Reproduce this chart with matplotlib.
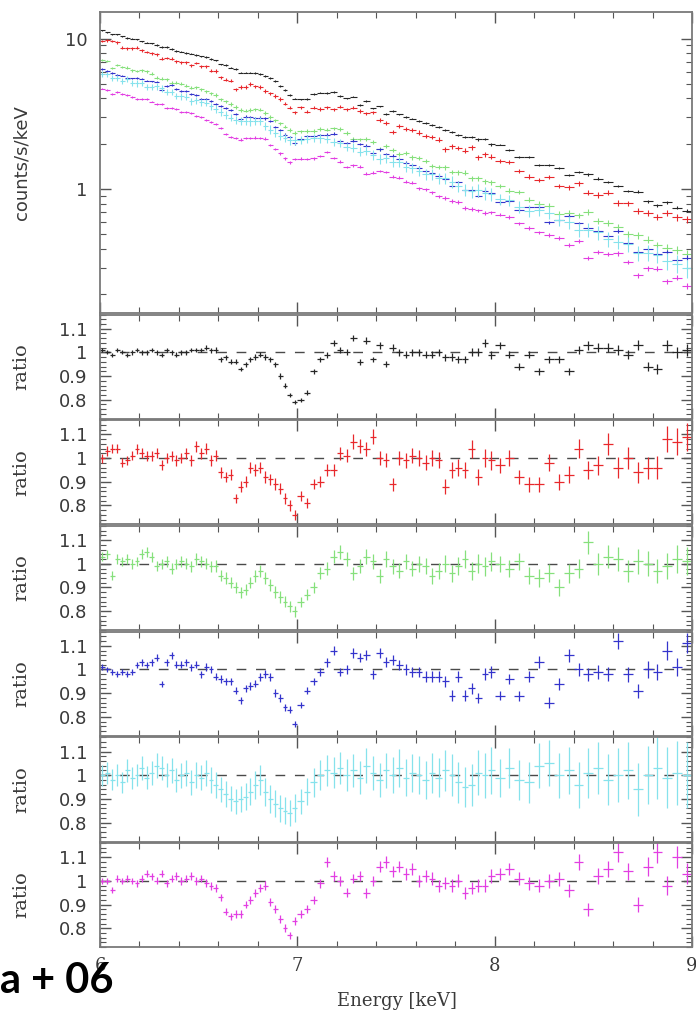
import numpy as np
import matplotlib.pyplot as plt
from matplotlib.ticker import MultipleLocator, FixedLocator, NullFormatter, FuncFormatter, LogLocator

# energy binning (keV): 25 eV bins up to 7 keV, 33 eV to 8 keV, 50 eV above
edges = np.concatenate([np.linspace(6.0, 7.0, 41)[:-1],
                        np.linspace(7.0, 8.0, 31)[:-1],
                        np.linspace(8.0, 9.0, 21)])
energy = 0.5 * (edges[1:] + edges[:-1])
half_width = 0.5 * np.diff(edges)

# data / continuum ratio for the six observations
ratio_k = [
    1.01, 1.00, 0.99, 1.01, 1.00, 0.99, 1.00, 1.01, 1.00, 1.00,
    1.01, 1.00, 0.99, 1.01, 1.00, 0.99, 1.00, 1.00, 1.01, 1.01,
    1.01, 1.02, 1.01, 1.01, 0.97, 0.98, 0.96, 0.96, 0.93, 0.95,
    0.97, 0.98, 0.99, 0.98, 0.97, 0.95, 0.90, 0.86, 0.82, 0.79,
    0.80, 0.83, 0.92, 0.97, 0.99, 1.04, 1.01, 1.00, 1.06, 0.96,
    1.05, 0.97, 1.03, 0.95, 1.02, 1.00, 0.99, 1.00, 1.00, 0.99,
    0.99, 1.00, 0.98, 0.98, 0.97, 0.97, 1.00, 1.00, 1.04, 0.99,
    1.03, 0.99, 0.94, 0.99, 0.92, 0.97, 0.97, 0.92, 1.01, 1.03,
    1.02, 1.02, 1.01, 0.99, 1.03, 0.94, 0.93, 1.03, 1.00, 1.01,
]
ratio_r = [
    1.00, 1.03, 1.04, 1.04, 0.98, 0.99, 1.01, 1.04, 1.02, 1.01,
    1.01, 1.02, 0.97, 1.00, 1.01, 0.99, 1.00, 1.02, 0.99, 1.05,
    1.02, 1.04, 0.99, 1.01, 0.94, 0.92, 0.93, 0.83, 0.88, 0.90,
    0.96, 0.95, 0.96, 0.92, 0.91, 0.89, 0.87, 0.83, 0.80, 0.76,
    0.84, 0.81, 0.89, 0.90, 0.95, 0.95, 1.02, 1.01, 1.07, 1.05,
    1.04, 1.09, 1.00, 0.99, 0.89, 1.00, 0.99, 1.01, 1.00, 0.98,
    1.00, 0.99, 0.88, 0.95, 0.96, 0.95, 1.04, 0.92, 1.00, 0.99,
    0.97, 1.00, 0.92, 0.89, 0.89, 0.98, 0.90, 0.93, 1.04, 0.95,
    0.97, 1.06, 0.96, 1.00, 0.94, 0.96, 0.96, 1.08, 1.07, 1.09,
]
ratio_g = [
    1.03, 1.04, 0.95, 1.02, 1.01, 1.02, 1.00, 1.01, 1.04, 1.05,
    1.03, 0.99, 1.00, 1.01, 0.98, 1.00, 1.01, 1.00, 0.99, 1.02,
    1.01, 1.00, 0.99, 0.99, 0.95, 0.94, 0.92, 0.90, 0.88, 0.89,
    0.92, 0.95, 0.97, 0.94, 0.91, 0.88, 0.86, 0.84, 0.82, 0.80,
    0.84, 0.87, 0.90, 0.96, 0.98, 1.03, 1.05, 1.02, 0.96, 0.99,
    1.03, 1.01, 0.95, 1.02, 0.99, 0.97, 1.01, 0.98, 1.00, 0.99,
    0.95, 0.97, 1.00, 0.96, 0.99, 1.02, 0.97, 1.00, 0.99, 1.01,
    1.00, 0.98, 1.01, 0.95, 0.94, 0.96, 0.90, 0.96, 0.98, 1.09,
    1.00, 1.03, 1.02, 0.97, 1.01, 1.00, 0.97, 0.99, 1.02, 1.01,
]
ratio_b = [
    1.01, 1.00, 0.99, 0.98, 0.99, 0.98, 0.99, 1.02, 1.03, 1.02,
    1.03, 1.05, 0.94, 1.03, 1.06, 1.02, 1.02, 1.03, 1.01, 1.02,
    0.98, 1.01, 1.00, 0.97, 0.96, 0.95, 0.95, 0.91, 0.87, 0.92,
    0.93, 0.94, 0.97, 0.98, 0.97, 0.90, 0.88, 0.84, 0.83, 0.77,
    0.85, 0.91, 0.95, 0.99, 1.03, 1.08, 0.99, 1.00, 1.07, 1.05,
    1.06, 0.98, 1.07, 1.03, 1.04, 1.02, 1.00, 0.99, 0.99, 0.97,
    0.97, 0.97, 0.95, 0.89, 0.97, 0.89, 0.92, 0.88, 0.98, 0.99,
    0.89, 0.96, 0.89, 0.97, 1.03, 0.86, 0.94, 1.06, 1.00, 0.98,
    0.99, 0.98, 1.12, 0.98, 0.91, 1.00, 0.99, 1.08, 1.01, 1.11,
]
ratio_c = [
    1.00, 1.01, 0.98, 1.00, 0.97, 1.02, 0.99, 1.00, 1.03, 0.99,
    1.01, 1.04, 1.03, 1.00, 1.02, 0.98, 1.00, 1.01, 0.97, 1.00,
    0.99, 1.01, 0.98, 0.96, 0.94, 0.92, 0.90, 0.89, 0.90, 0.91,
    0.93, 0.96, 0.98, 0.93, 0.90, 0.88, 0.86, 0.85, 0.84, 0.86,
    0.89, 0.93, 0.97, 1.00, 1.02, 1.01, 1.03, 1.00, 1.02, 0.99,
    1.04, 1.01, 0.98, 1.02, 1.00, 1.03, 0.99, 1.01, 1.00, 0.98,
    1.01, 0.99, 1.02, 1.00, 0.97, 0.95, 0.96, 1.01, 1.00, 1.02,
    0.99, 1.03, 0.98, 0.97, 1.04, 1.05, 1.00, 1.02, 0.96, 1.01,
    1.03, 0.98, 1.00, 1.02, 0.94, 1.00, 1.03, 0.99, 1.01, 1.00,
]
ratio_m = [
    1.00, 1.00, 0.96, 1.01, 1.00, 1.01, 1.00, 0.99, 1.01, 1.03,
    1.02, 1.00, 1.03, 0.99, 1.01, 1.02, 1.00, 1.01, 1.02, 1.00,
    1.01, 0.99, 0.98, 0.97, 0.93, 0.87, 0.85, 0.86, 0.86, 0.90,
    0.92, 0.95, 0.97, 0.98, 0.91, 0.88, 0.84, 0.80, 0.77, 0.83,
    0.86, 0.88, 0.92, 0.99, 1.08, 1.02, 1.00, 0.95, 1.01, 1.02,
    0.95, 1.00, 1.06, 1.08, 1.04, 1.06, 1.03, 1.05, 1.00, 1.02,
    1.01, 0.98, 0.99, 0.98, 1.00, 0.95, 0.97, 0.98, 0.98, 1.02,
    1.03, 1.05, 1.01, 0.99, 0.98, 1.00, 1.01, 0.96, 1.08, 0.88,
    1.02, 1.05, 1.12, 1.04, 0.90, 1.06, 1.12, 0.98, 1.10, 1.03,
]

ratios = [ratio_k, ratio_r, ratio_g, ratio_b, ratio_c, ratio_m]
colors = ['#262626', '#e8282c', '#86e07c', '#3434cc', '#86e2ec', '#e23ee2']
# continuum model: rate at 6 and 9 keV (counts/s/keV), common curvature
rate_6kev = [11.3, 9.7, 7.05, 6.3, 5.9, 4.7]
rate_9kev = [0.69, 0.56, 0.355, 0.305, 0.29, 0.214]
curvature = -0.025
exposure = [50000, 12000, 16000, 44000, 3500, 50000]  # s


def continuum(c6, c9):
    lg = np.log10(c6) + (energy - 6.0) / 3.0 * np.log10(c9 / c6) \
        + curvature * (energy - 6.0) * (energy - 9.0)
    return 10 ** lg


W, H = 696, 1019
fig = plt.figure(figsize=(W / 100, H / 100), dpi=100)
txt = '#3a3a3a'
spine_col = '#7a7a7a'

left = 100 / W
width = 592 / W


def style_axes(ax):
    for s in ax.spines.values():
        s.set_color(spine_col)
        s.set_linewidth(1.3)
    ax.set_xlim(6.0, 9.0)
    ax.xaxis.set_major_locator(MultipleLocator(1))
    ax.xaxis.set_minor_locator(MultipleLocator(0.2))
    ax.tick_params(which='both', direction='in', top=True, right=True,
                   color='#555555', labelcolor=txt)
    ax.tick_params(which='major', length=8, width=1.0)
    ax.tick_params(which='minor', length=4, width=0.8)
    ax.tick_params(axis='y', labelsize=13, pad=9)


# spectrum panel
ax0 = fig.add_axes([left, (H - 313) / H, width, 301 / H])
style_axes(ax0)
ax0.set_yscale('log')
ax0.set_ylim(0.15, 15)
ax0.yaxis.set_major_locator(FixedLocator([1, 10]))
ax0.yaxis.set_major_formatter(FuncFormatter(lambda v, p: '%g' % v))
ax0.yaxis.set_minor_locator(LogLocator(base=10, subs=np.arange(2, 10)))
ax0.yaxis.set_minor_formatter(NullFormatter())
ax0.tick_params(axis='x', labelbottom=False)
ax0.set_ylabel('counts/s/keV', fontsize=13, color=txt, family='DejaVu Sans')
ax0.yaxis.set_label_coords(-0.118, 0.5)

for k in range(6):
    model = continuum(rate_6kev[k], rate_9kev[k])
    r = np.array(ratios[k])
    cts = model * r
    rel_err = 1.0 / np.sqrt(model * exposure[k] * 2 * half_width)
    ax0.errorbar(energy, cts, xerr=half_width, yerr=cts * rel_err, fmt='none',
                 ecolor=colors[k], elinewidth=0.8, capsize=0)

# ratio panels
panel_h = 105.7
for k in range(6):
    top_px = 313 + 1.5 + k * panel_h
    ax = fig.add_axes([left, (H - top_px - panel_h + 1.5) / H, width, (panel_h - 1.5) / H])
    style_axes(ax)
    ax.set_ylim(0.72, 1.16)
    ax.yaxis.set_major_locator(FixedLocator([0.8, 0.9, 1.0, 1.1]))
    ax.yaxis.set_major_formatter(FuncFormatter(lambda v, p: '%g' % round(v, 2)))
    ax.yaxis.set_minor_locator(MultipleLocator(0.02))
    ax.axhline(1.0, color='#4a4a4a', lw=1.0, dashes=(7, 7), zorder=1)

    model = continuum(rate_6kev[k], rate_9kev[k])
    r = np.array(ratios[k])
    rel_err = 1.0 / np.sqrt(model * exposure[k] * 2 * half_width)
    ax.errorbar(energy, r, xerr=half_width, yerr=r * rel_err, fmt='none',
                ecolor=colors[k], elinewidth=0.9, capsize=0, zorder=2)

    ax.set_ylabel('ratio', fontsize=14, color=txt, family='DejaVu Serif')
    ax.yaxis.set_label_coords(-0.118, 0.5)
    if k < 5:
        ax.tick_params(axis='x', labelbottom=False)
    else:
        ax.tick_params(axis='x', labelsize=13, pad=7)
        for lab in ax.get_xticklabels():
            lab.set_family('DejaVu Serif')

fig.text(397 / W, 1 - 1001 / H, 'Energy [keV]', ha='center', va='center',
         fontsize=13, color=txt, family='DejaVu Serif')
fig.text(0.0, 1 - 993 / H, 'a + 06', ha='left', va='baseline',
         fontsize=30, fontweight='bold', color='black', family='Lato')

fig.savefig('out.png', dpi=100)
